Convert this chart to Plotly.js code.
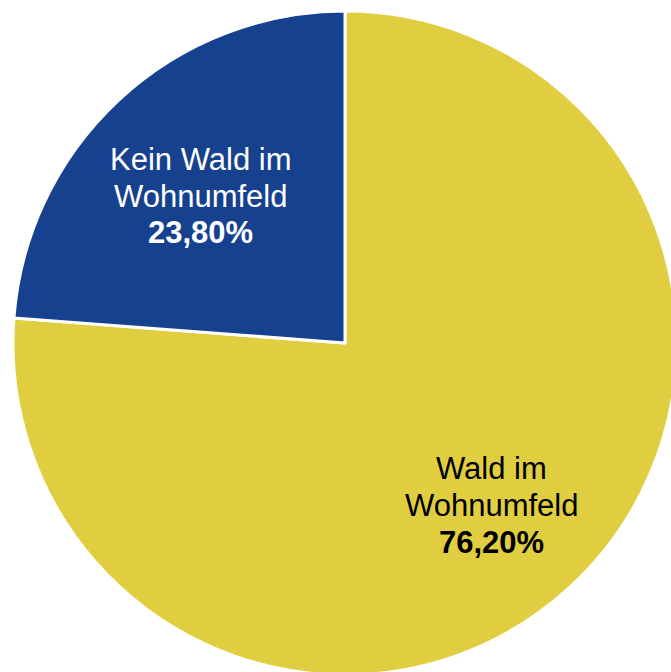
<!DOCTYPE html>
<html><head><meta charset="utf-8">
<script src="https://cdn.plot.ly/plotly-3.0.1.min.js"></script>
<style>html,body{margin:0;padding:0;overflow:hidden;background:#fff}</style>
</head><body>
<div id="chart"></div>
<script>
const labels = ["Wald im<br>Wohnumfeld", "Kein Wald im<br>Wohnumfeld"];
const values = [76.2, 23.8];
const colors = ["#E0CE40", "#16418F"];
const textColors = ["#000000", "#FFFFFF"];
// label block centres in pixel space of the page (x, y of middle line)
const labelCenters = [[491, 505], [200, 196]];

const W = 690, H = 686, ML = 13, MT = 11, PW = 664, PH = 664;
const lineGap = 37;

function fmt(v){ return v.toFixed(2).replace(".", ",") + "%"; }

const annotations = [];
labels.forEach((l, i) => {
  const lines = l.split("<br>").concat(["<b>" + fmt(values[i]) + "</b>"]);
  const n = lines.length;
  lines.forEach((t, k) => {
    const py = labelCenters[i][1] + (k - (n - 1) / 2) * lineGap;
    annotations.push({
      xref: "paper", yref: "paper",
      x: (labelCenters[i][0] - ML) / PW,
      y: 1 - (py - MT) / PH,
      xanchor: "center", yanchor: "middle", showarrow: false,
      text: t,
      font: {family: "Liberation Sans, Arial, sans-serif", size: 31, color: textColors[i]}
    });
  });
});

Plotly.newPlot("chart", [{
  type: "pie",
  labels: labels,
  values: values,
  sort: false,
  direction: "clockwise",
  rotation: 0,
  textinfo: "none",
  hoverinfo: "none",
  marker: {colors: colors, line: {color: "#FFFFFF", width: 3}},
  showlegend: false
}], {
  width: W, height: H,
  margin: {l: ML, r: W - ML - PW, t: MT, b: H - MT - PH, pad: 0},
  paper_bgcolor: "#FFFFFF",
  annotations: annotations
}, {displayModeBar: false, staticPlot: true});
</script>
</body></html>
